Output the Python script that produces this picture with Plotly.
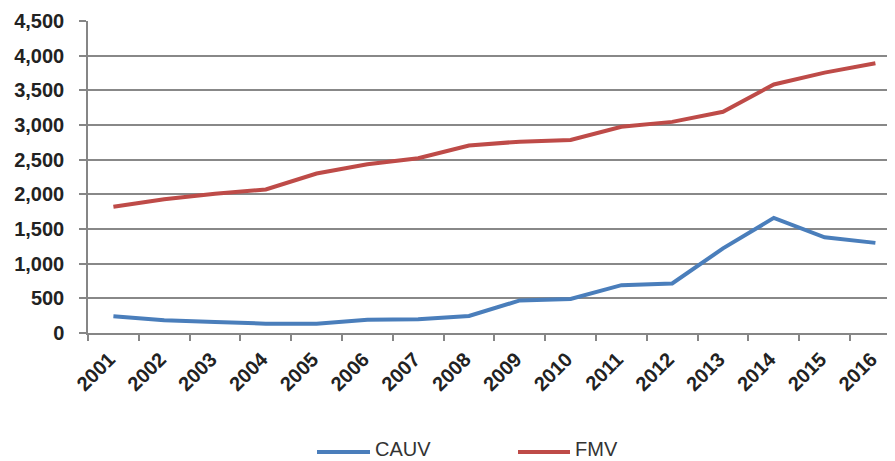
import plotly.graph_objects as go

years = [str(y) for y in range(2001, 2017)]
cauv = [240, 185, 160, 135, 135, 192, 198, 245, 470, 490, 690, 715, 1220, 1660, 1380, 1300]
fmv = [1820, 1930, 2010, 2070, 2300, 2435, 2520, 2705, 2760, 2785, 2975, 3045, 3190, 3585, 3755, 3890]
series_names = ["CAUV", "FMV"]
series_colors = ["#4A7EBB", "#BE4B48"]
y_ticks = list(range(0, 4501, 500))
y_tick_text = [f"{v:,}" for v in y_ticks]

# page body has an 8px margin, so the figure is sized to fit the window
OFF = 8
W, H = 895 - OFF, 461 - OFF
L, R, T = 88 - OFF, 0, 21 - OFF
B = H - (333 - OFF)
pw, ph = W - L - R, H - T - B

fig = go.Figure()
for name, vals, col in zip(series_names, [cauv, fmv], series_colors):
    fig.add_trace(go.Scatter(x=years, y=vals, name=name, mode="lines",
                             line=dict(color=col, width=4), showlegend=False))

# manual legend (Excel style long line samples), positions in window pixels
def px2paper(xp, yp):
    return (xp - OFF - L) / pw, (H - B - (yp - OFF)) / ph

legend_y = 449
legend_items = [(317, 370, 373), (518, 570, 573)]
for (x0, x1, xt), name, col in zip(legend_items, series_names, series_colors):
    a0, b0 = px2paper(x0, 452)
    a1, _ = px2paper(x1, 452)
    at, bt = px2paper(xt, legend_y)
    fig.add_shape(type="line", xref="paper", yref="paper", x0=a0, x1=a1, y0=b0, y1=b0,
                  line=dict(color=col, width=4))
    fig.add_annotation(xref="paper", yref="paper", x=at, y=bt, text=name, showarrow=False,
                       xanchor="left", yanchor="middle",
                       font=dict(family="Liberation Sans, Arial", size=20, color="#333333"))

ncat = pw / 50.8
fig.update_layout(
    width=W, height=H,
    margin=dict(l=L, r=R, t=T, b=B, autoexpand=False),
    paper_bgcolor="white", plot_bgcolor="white",
    font=dict(family="Liberation Sans, Arial", color="#222222"),
    xaxis=dict(
        type="category", range=[-0.5, -0.5 + ncat],
        tickson="boundaries", ticks="outside", ticklen=6, tickcolor="#868686", tickwidth=1.5,
        showline=True, linecolor="#868686", linewidth=1.5,
        showgrid=False, tickangle=-45,
        ticklabelstandoff=5, ticklabelshift=-4,
        tickfont=dict(family="Liberation Sans, Arial", size=20, color="#222222", weight="bold"),
    ),
    yaxis=dict(
        range=[0, 4500], tickvals=y_ticks, ticktext=y_tick_text,
        ticks="outside", ticklen=7, tickcolor="#868686", tickwidth=1.5,
        showline=True, linecolor="#868686", linewidth=1.5,
        showgrid=True, gridcolor="#888888", gridwidth=1.6, zeroline=False,
        ticklabelstandoff=11,
        tickfont=dict(family="Liberation Sans, Arial", size=20, color="#222222", weight="bold"),
    ),
)

fig.write_html("out.html")
